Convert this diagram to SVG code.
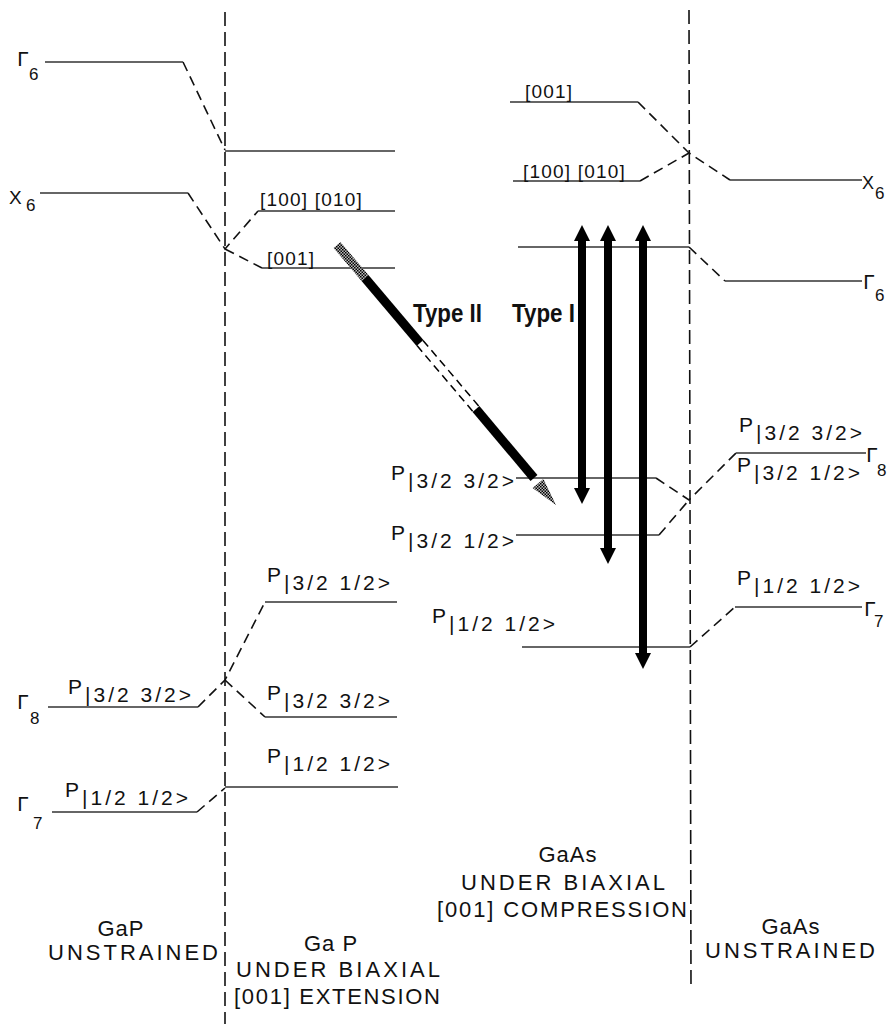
<svg xmlns="http://www.w3.org/2000/svg" width="889" height="1024" viewBox="0 0 889 1024">
<style>
.lvl{stroke:#333;stroke-width:1.6;fill:none}
.dsh{stroke:#111;stroke-width:1.6;fill:none;stroke-dasharray:10 6}
.axis{stroke:#111;stroke-width:1.6;fill:none;stroke-dasharray:14 6}
.t{font-family:"Liberation Sans","DejaVu Sans",sans-serif;fill:#111}
.lab{font-size:21px;letter-spacing:3px}
.sub{font-size:21px}
.br{font-size:19px;letter-spacing:1.2px}
.g{font-family:"DejaVu Sans","Liberation Sans",sans-serif;font-size:20px;fill:#111}
.gs{font-family:"Liberation Sans",sans-serif;font-size:17px;fill:#111}
.cap{font-size:22px}
.mid{text-anchor:middle;letter-spacing:1px}
.typ{font-size:25px;font-weight:bold}
.arr{stroke:#000;stroke-width:8;fill:none;marker-start:url(#ah);marker-end:url(#ah)}
</style>
<defs>
<marker id="ah" viewBox="0 0 16 16" refX="3" refY="8" markerWidth="16" markerHeight="16" markerUnits="userSpaceOnUse" orient="auto-start-reverse">
<path d="M0,0 L16,8 L0,16 z" fill="#000"/>
</marker>
<pattern id="hatch" width="3" height="3" patternUnits="userSpaceOnUse">
<rect width="3" height="3" fill="#bbb"/>
<rect width="1.5" height="1.5" fill="#000"/>
<rect x="1.5" y="1.5" width="1.5" height="1.5" fill="#000"/>
</pattern>
</defs>
<rect width="889" height="1024" fill="#fff"/>

<g id="axes">
<line class="axis" x1="225" y1="12" x2="225" y2="1024"/>
<line class="axis" x1="689" y1="10" x2="691" y2="990"/>
</g>

<g id="connectors">
<path class="dsh" d="M183,62 L225,150"/>
<path class="dsh" d="M188,193 L225,249 L258,211"/>
<path class="dsh" d="M225,249 L262,268"/>
<path class="dsh" d="M198,707 L225,680 L265,602"/>
<path class="dsh" d="M225,680 L265,717"/>
<path class="dsh" d="M197,812 L225,788"/>
<path class="dsh" d="M638,102 L689,153 L730,180"/>
<path class="dsh" d="M640,181 L689,153"/>
<path class="dsh" d="M689,247 L725,281"/>
<path class="dsh" d="M656,478 L689,500 L736,453"/>
<path class="dsh" d="M659,535 L689,500"/>
<path class="dsh" d="M690,647 L735,607"/>
</g>

<g id="gap-unstrained-gamma6">
<line class="lvl" x1="45" y1="62" x2="183" y2="62"/>
<text class="g" x="17" y="66">Γ</text><text class="gs" x="29" y="80">6</text>
</g>
<g id="gap-unstrained-x6">
<line class="lvl" x1="40" y1="193" x2="188" y2="193"/>
<text class="t" x="9" y="204" font-size="19">X</text><text class="gs" x="26" y="211">6</text>
</g>
<g id="gap-unstrained-gamma8">
<line class="lvl" x1="48" y1="707" x2="198" y2="707"/>
<text class="g" x="17" y="709">Γ</text><text class="gs" x="30" y="724">8</text>
<text class="t lab" x="68" y="694">P<tspan class="sub" dy="8">|3/2 3/2&gt;</tspan></text>
</g>
<g id="gap-unstrained-gamma7">
<line class="lvl" x1="52" y1="812" x2="197" y2="812"/>
<text class="g" x="17" y="811">Γ</text><text class="gs" x="33" y="829">7</text>
<text class="t lab" x="65" y="797">P<tspan class="sub" dy="8">|1/2 1/2&gt;</tspan></text>
</g>

<g id="gap-strained-gamma6">
<line class="lvl" x1="225" y1="151" x2="395" y2="151"/>
</g>
<g id="gap-strained-x100">
<line class="lvl" x1="258" y1="211" x2="395" y2="211"/>
<text class="t br" x="260" y="206">[100] [010]</text>
</g>
<g id="gap-strained-x001">
<line class="lvl" x1="262" y1="268" x2="395" y2="268"/>
<text class="t br" x="267" y="265">[001]</text>
</g>
<g id="gap-strained-p32-12">
<line class="lvl" x1="265" y1="602" x2="397" y2="602"/>
<text class="t lab" x="267" y="582">P<tspan class="sub" dy="8">|3/2 1/2&gt;</tspan></text>
</g>
<g id="gap-strained-p32-32">
<line class="lvl" x1="265" y1="717" x2="397" y2="717"/>
<text class="t lab" x="267" y="700">P<tspan class="sub" dy="8">|3/2 3/2&gt;</tspan></text>
</g>
<g id="gap-strained-p12">
<line class="lvl" x1="225" y1="787" x2="398" y2="787"/>
<text class="t lab" x="267" y="763">P<tspan class="sub" dy="8">|1/2 1/2&gt;</tspan></text>
</g>

<g id="gaas-strained-x001">
<line class="lvl" x1="510" y1="102" x2="638" y2="102"/>
<text class="t br" x="525" y="98">[001]</text>
</g>
<g id="gaas-strained-x100">
<line class="lvl" x1="513" y1="181" x2="640" y2="181"/>
<text class="t br" x="523" y="178">[100] [010]</text>
</g>
<g id="gaas-strained-gamma6">
<line class="lvl" x1="518" y1="247" x2="689" y2="247"/>
</g>
<g id="gaas-strained-p32-32">
<line class="lvl" x1="516" y1="478" x2="656" y2="478"/>
<text class="t lab" x="391" y="480">P<tspan class="sub" dy="8">|3/2 3/2&gt;</tspan></text>
</g>
<g id="gaas-strained-p32-12">
<line class="lvl" x1="516" y1="535" x2="659" y2="535"/>
<text class="t lab" x="391" y="540">P<tspan class="sub" dy="8">|3/2 1/2&gt;</tspan></text>
</g>
<g id="gaas-strained-p12">
<line class="lvl" x1="522" y1="647" x2="690" y2="647"/>
<text class="t lab" x="432" y="623">P<tspan class="sub" dy="8">|1/2 1/2&gt;</tspan></text>
</g>

<g id="gaas-unstrained-x6">
<line class="lvl" x1="730" y1="180" x2="862" y2="180"/>
<text class="t" x="862" y="189" font-size="18">X</text><text class="gs" x="875" y="199">6</text>
</g>
<g id="gaas-unstrained-gamma6">
<line class="lvl" x1="725" y1="281" x2="862" y2="281"/>
<text class="g" x="863" y="289">Γ</text><text class="gs" x="875" y="301">6</text>
</g>
<g id="gaas-unstrained-gamma8">
<line class="lvl" x1="736" y1="453" x2="866" y2="453"/>
<text class="g" x="866" y="462">Γ</text><text class="gs" x="877" y="476">8</text>
<text class="t lab" x="739" y="432">P<tspan class="sub" dy="8">|3/2 3/2&gt;</tspan></text>
<text class="t lab" x="737" y="472">P<tspan class="sub" dy="8">|3/2 1/2&gt;</tspan></text>
</g>
<g id="gaas-unstrained-gamma7">
<line class="lvl" x1="735" y1="607" x2="862" y2="607"/>
<text class="g" x="864" y="616">Γ</text><text class="gs" x="874" y="627">7</text>
<text class="t lab" x="737" y="585">P<tspan class="sub" dy="8">|1/2 1/2&gt;</tspan></text>
</g>

<g id="transitions">
<line class="arr" x1="582" y1="238" x2="582" y2="491"/>
<line class="arr" x1="608" y1="238" x2="608" y2="551"/>
<line class="arr" x1="643" y1="238" x2="643" y2="656"/>
<line x1="337" y1="245" x2="365" y2="278" stroke="url(#hatch)" stroke-width="9"/>
<line x1="365" y1="278" x2="420" y2="343" stroke="#000" stroke-width="9"/>
<line x1="423" y1="340.4" x2="479" y2="406.4" stroke="#000" stroke-width="1.5" stroke-dasharray="8 5"/>
<line x1="417" y1="345.6" x2="473" y2="411.6" stroke="#000" stroke-width="1.5" stroke-dasharray="8 5"/>
<line x1="476" y1="409" x2="534" y2="478" stroke="#000" stroke-width="9"/>
<polygon points="543.4,479.1 556,505 532.6,488.1" fill="url(#hatch)"/>
<text class="t typ" x="413" y="322" textLength="69" lengthAdjust="spacingAndGlyphs">Type II</text>
<text class="t typ" x="512" y="322" textLength="63" lengthAdjust="spacingAndGlyphs">Type I</text>
</g>

<g id="captions">
<text class="t cap mid" x="121" y="936">GaP</text>
<text class="t cap" x="48" y="960" textLength="170">UNSTRAINED</text>
<text class="t cap mid" x="331" y="951">Ga P</text>
<text class="t cap" x="236" y="977" textLength="204">UNDER BIAXIAL</text>
<text class="t cap" x="234" y="1004" textLength="206">[001] EXTENSION</text>
<text class="t cap mid" x="568" y="862">GaAs</text>
<text class="t cap" x="461" y="890" textLength="204">UNDER BIAXIAL</text>
<text class="t cap" x="437" y="917" textLength="250">[001] COMPRESSION</text>
<text class="t cap mid" x="791" y="934">GaAs</text>
<text class="t cap" x="705" y="958" textLength="170">UNSTRAINED</text>
</g>
</svg>
